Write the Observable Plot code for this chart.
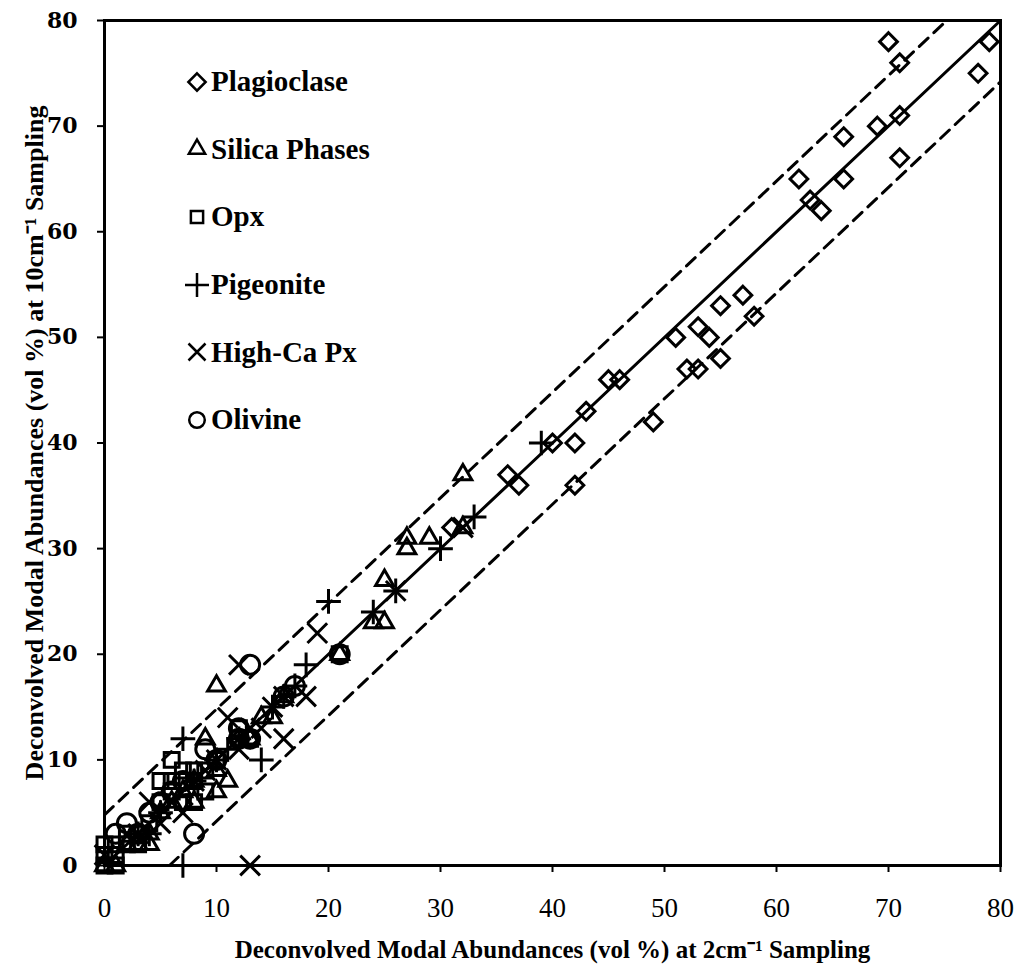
<!DOCTYPE html>
<html>
<head>
<meta charset="utf-8">
<script src="https://cdn.jsdelivr.net/npm/d3@7"></script>
<script src="https://cdn.jsdelivr.net/npm/@observablehq/plot@0.6"></script>
<style>
  html, body { margin: 0; padding: 0; background: #fff; }
  #wrap { position: relative; width: 1020px; height: 968px; }
  #legend { position: absolute; left: 185px; top: 48px; font-family: "Liberation Serif", serif; font-weight: bold; font-size: 29px; color: #000; }
  #legend .row { display: flex; align-items: center; height: 67.6px; }
  #legend .row svg { margin-right: 2px; }
  svg text { fill: #000; }
</style>
</head>
<body>
<div id="wrap"><div id="legend"></div></div>
<script>
// ---- data (x: 2 cm^-1 sampling, y: 10 cm^-1 sampling), vol % ----
const plagioclase = [[70,78],[71,76],[79,78],[78,75],[66,69],[69,70],[71,71],[71,67],[62,65],[66,65],[63,63],[64,62],
  [57,54],[55,53],[58,52],[53,51],[54,50],[51,50],[55,48],[52,47],[53,47],[45,46],[46,46],[43,43],[49,42],[40,40],
  [42,40],[36,37],[37,36],[42,36],[31,32],[12,12],[13,12]];
const silicaPhases = [[32,37],[27,31],[27,30],[29,31],[32,32],[25,27],[25,23],[24,23],[21,20],[10,17],[15,14],[14,14],
  [16,16],[9,12],[10,9],[10,7],[11,8],[8,8],[7,7],[4,2],[3,2],[1,0],[0,0],[5,5],[6,6],[2,2],[13,12],[8,6],[4,3]];
const opx = [[0,0],[0,1],[0,2],[1,0],[1,1],[1,2],[2,2],[2,3],[3,2],[3,3],[4,4],[5,6],[5,8],[6,10],[6,7],[7,8],[7,9],
  [8,8],[8,9],[8,6],[9,9],[9,7],[10,10],[7,6],[12,12],[13,12],[21,20],[12,13],[6,8]];
const pigeonite = [[39,40],[33,33],[30,30],[26,26],[20,25],[18,19],[7,12],[14,10],[7,0],[16,16],[17,17],[15,15],[10,10],
  [5,5],[3,3],[8,8],[24,24],[12,12],[4,3],[11,11]];
const highCaPx = [[13,0],[12,19],[19,22],[18,16],[16,12],[11,14],[4,6],[7,5],[12,11],[13,13],[15,15],[16,16],[32,32],
  [10,10],[9,9],[8,8],[6,6],[3,3],[5,4],[14,13],[0,1],[26,26]];
const olivine = [[2,4],[8,3],[4,5],[13,19],[21,20],[9,11],[12,13],[13,12],[12,12],[5,6],[7,8],[10,10],[1,3],[3,3],
  [6,7],[16,16],[17,17]];

const seriesNames = ["Plagioclase", "Silica Phases", "Opx", "Pigeonite", "High-Ca Px", "Olivine"];
const seriesData = [plagioclase, silicaPhases, opx, pigeonite, highCaPx, olivine];
const seriesSymbols = ["diamond2", "triangle2", "square2", "plus", "times", "circle"];
const seriesRadius = [8, 8.5, 9.5, 8, 9, 9.5];

const xTicks = [0, 10, 20, 30, 40, 50, 60, 70, 80];
const yTicks = [0, 10, 20, 30, 40, 50, 60, 70, 80];
const oneToOne = [[0, 0], [80, 80]];
const upperBound = [[0, 4.8], [75.2, 80]];
const lowerBound = [[5.8, 0], [80, 74.2]];
const xTitle = "Deconvolved Modal Abundances (vol %) at 2cm\u207B\u00B9 Sampling";
const yTitle = "Deconvolved Modal Abundances (vol %) at 10cm\u207B\u00B9 Sampling";

const points = seriesData.flatMap((arr, i) => arr.map(([x, y]) => ({x, y, s: seriesNames[i], r: seriesRadius[i]})));

const chart = Plot.plot({
  width: 1020,
  height: 968,
  marginLeft: 104,
  marginRight: 20,
  marginTop: 20,
  marginBottom: 103,
  style: {fontFamily: "Liberation Serif, serif", background: "#fff", color: "#000"},
  x: {domain: [0, 80]},
  y: {domain: [0, 80]},
  symbol: {domain: seriesNames, range: seriesSymbols},
  r: {type: "identity"},
  marks: [
    Plot.line(upperBound, {x: d => d[0], y: d => d[1], stroke: "#000", strokeWidth: 3, strokeDasharray: "12,8"}),
    Plot.line(lowerBound, {x: d => d[0], y: d => d[1], stroke: "#000", strokeWidth: 3, strokeDasharray: "12,8"}),
    Plot.line(oneToOne, {x: d => d[0], y: d => d[1], stroke: "#000", strokeWidth: 3}),
    Plot.dot(points, {x: "x", y: "y", symbol: "s", r: "r", stroke: "#000", strokeWidth: 3, fill: "none"}),
    Plot.axisX({ticks: xTicks, tickSize: 7, tickPadding: 25, tickFormat: d => d, label: null,
      fontSize: 27, fontFamily: "Liberation Serif", strokeWidth: 2}),
    Plot.axisY({ticks: yTicks, tickSize: 7, tickPadding: 20, tickFormat: d => d, label: null,
      fontSize: 22, fontWeight: "bold", fontFamily: "DejaVu Serif", strokeWidth: 2}),
    Plot.text([xTitle], {text: d => d, frameAnchor: "bottom", dy: 92, fontSize: 25, fontWeight: "bold", fontFamily: "Liberation Serif"}),
    Plot.text([yTitle], {text: d => d, frameAnchor: "left", textAnchor: "middle", dx: -70, rotate: -90, fontSize: 26, fontWeight: "bold", fontFamily: "Liberation Serif"}),
    Plot.frame({stroke: "#000", strokeWidth: 3})
  ]
});
document.getElementById("wrap").prepend(chart);

// legend
const d3types = {diamond2: d3.symbolDiamond2, triangle2: d3.symbolTriangle2, square2: d3.symbolSquare2,
  plus: d3.symbolPlus, times: d3.symbolTimes, circle: d3.symbolCircle};
const legend = d3.select("#legend");
seriesNames.forEach((name, i) => {
  const row = legend.append("div").attr("class", "row");
  const svg = row.append("svg").attr("width", 24).attr("height", 24);
  svg.append("path")
    .attr("transform", "translate(12,12)")
    .attr("d", d3.symbol(d3types[seriesSymbols[i]], 190)())
    .attr("fill", "none").attr("stroke", "#000").attr("stroke-width", 2.5);
  row.append("span").text(name);
});
</script>
</body>
</html>
